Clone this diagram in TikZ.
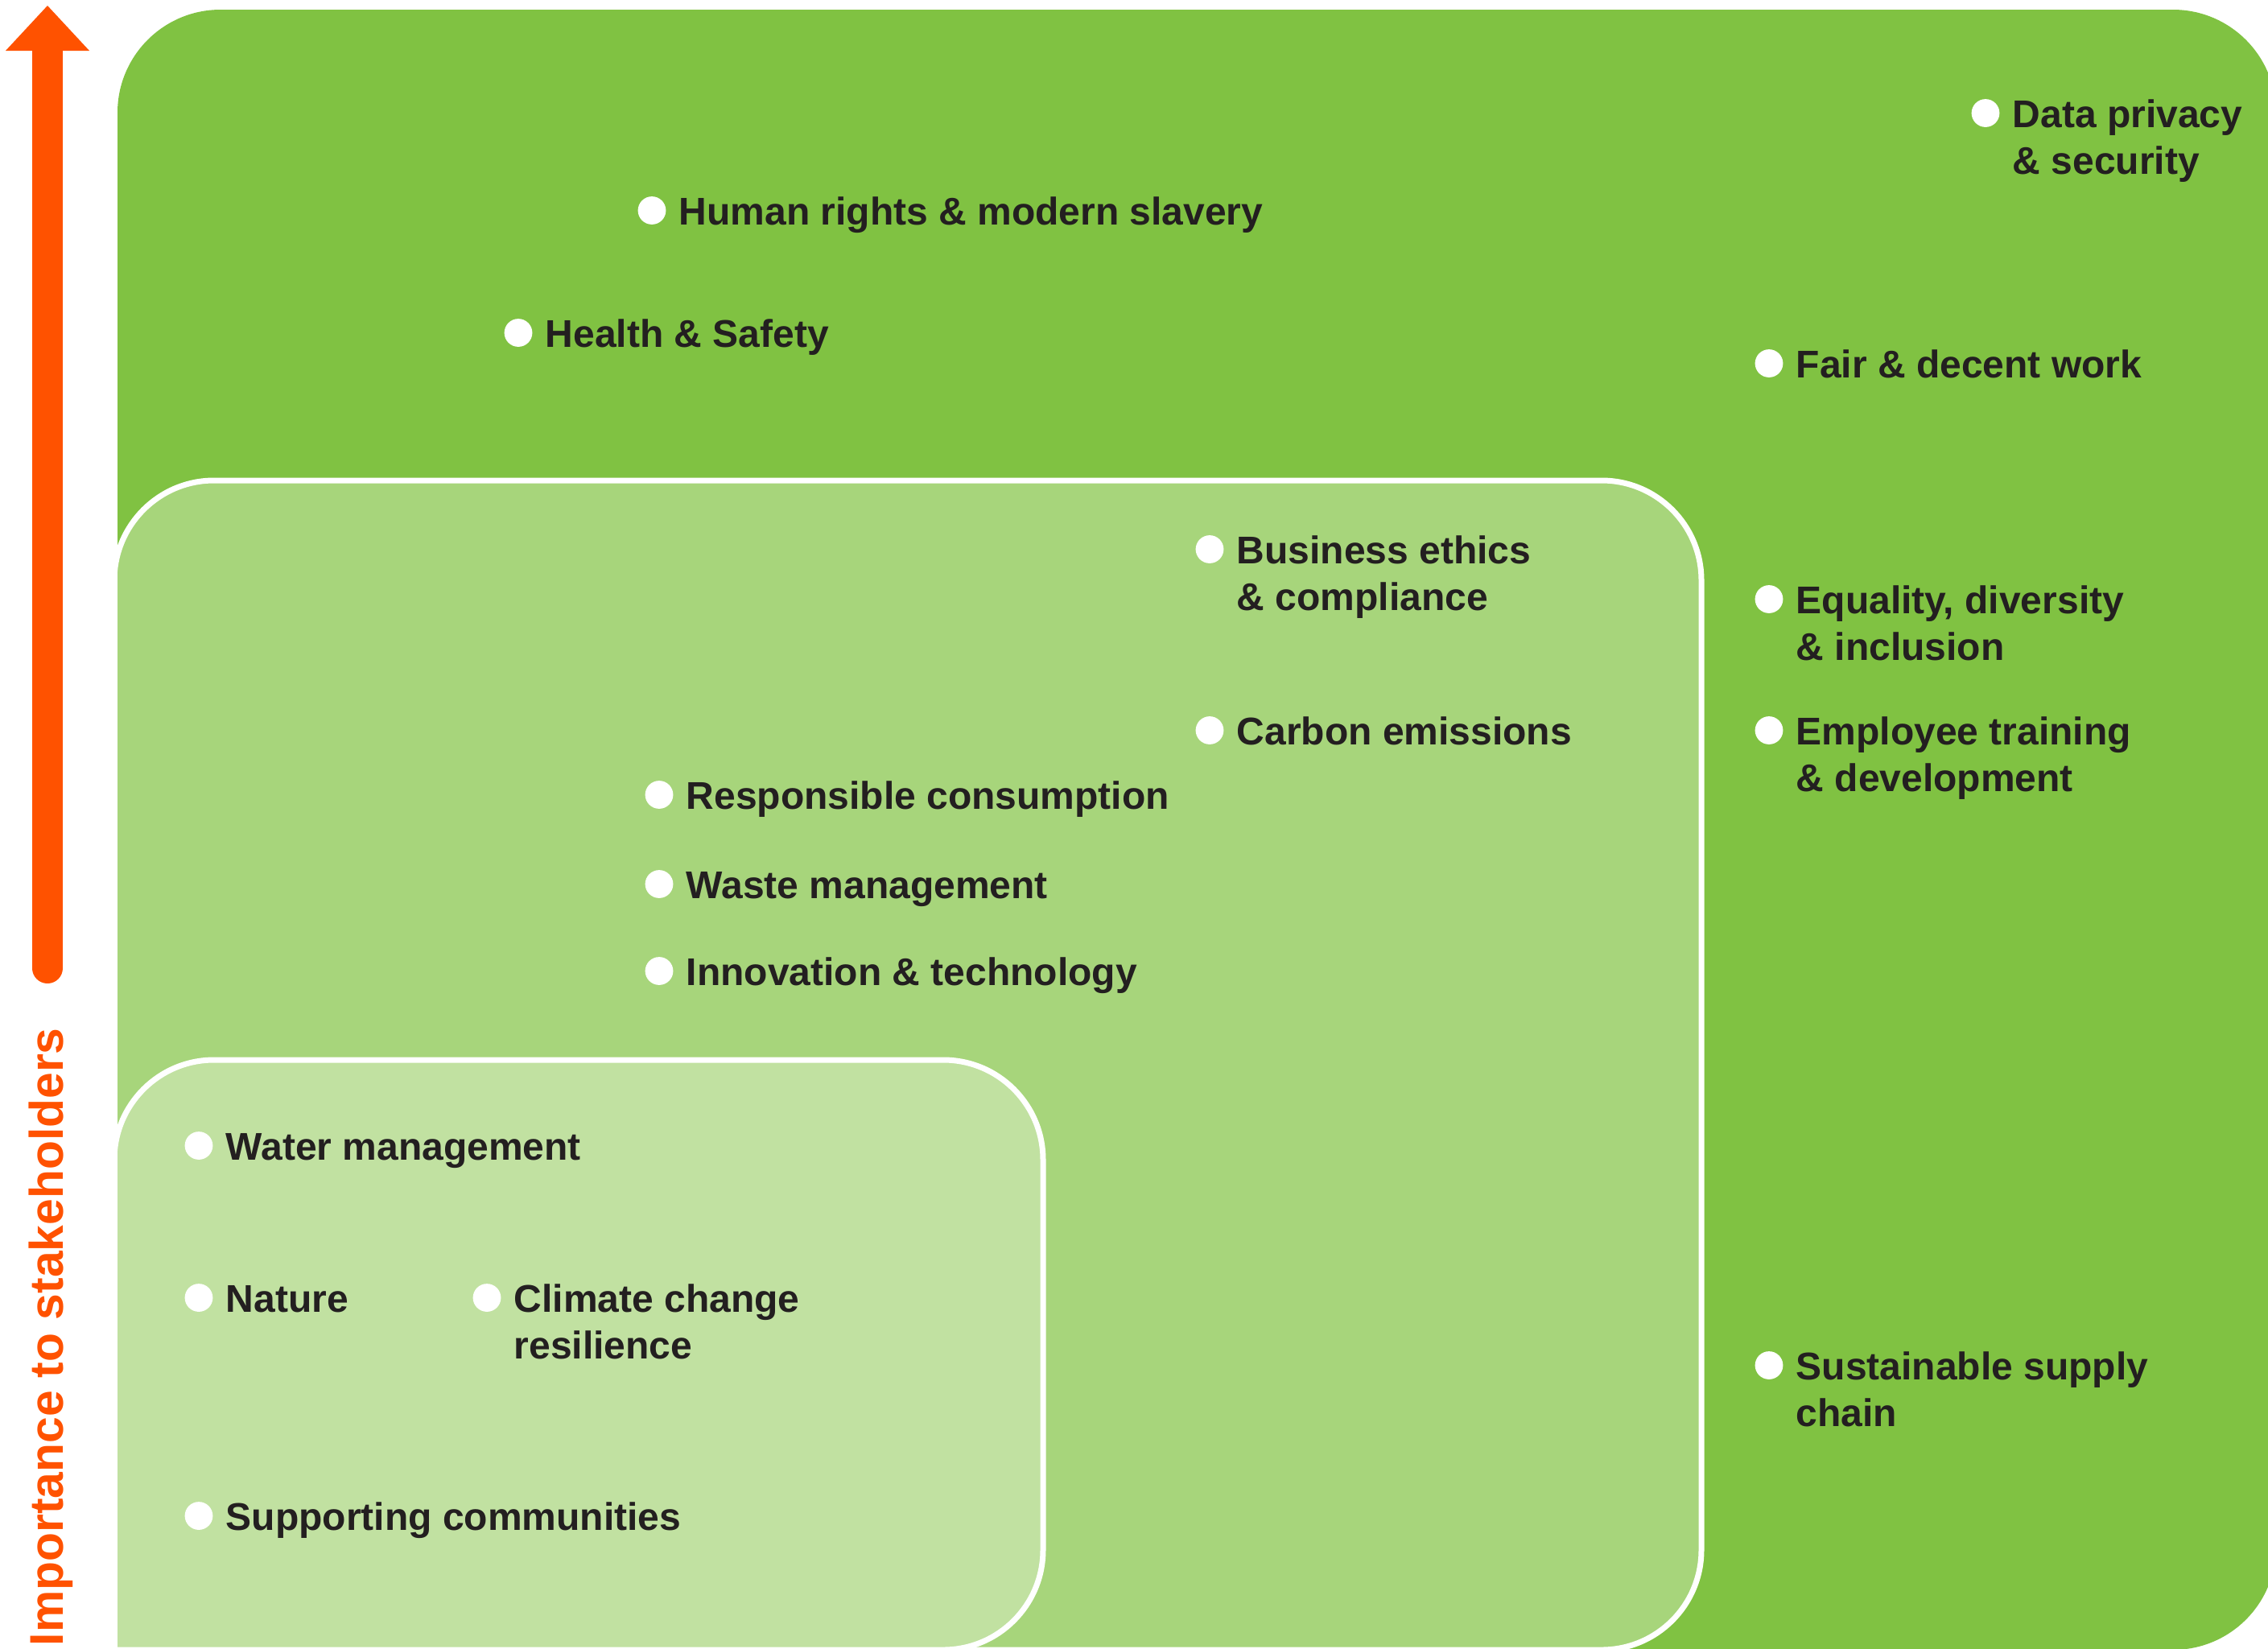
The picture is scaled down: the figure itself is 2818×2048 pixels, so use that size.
\documentclass[tikz,border=0pt]{standalone}
\usepackage{fontspec}
\setmainfont{Liberation Sans}
\definecolor{outerg}{RGB}{128,194,66}
\definecolor{midg}{RGB}{167,213,123}
\definecolor{smallg}{RGB}{193,225,161}
\definecolor{arroworange}{RGB}{255,82,0}
\definecolor{txt}{RGB}{35,31,32}
\tikzset{
  dotmark/.style={circle, fill=white, draw=none, minimum size=8.7pt, inner sep=0pt},
  lbl/.style={inner sep=0pt, anchor=base west, text=txt, font=\fontsize{12}{14.4}\selectfont\bfseries},
  zone/.style={draw=white, line width=1.75pt, rounded corners=31pt},
}
\newcommand\mtopic[4]{%
  \node[dotmark] (#1d) at ({#2-33},{#3-17.5}) {};
  \node[lbl] (#1) at (#2,#3) {#4};
}
\begin{document}
\begin{tikzpicture}[x=0.25pt, y=-0.25pt]
\useasboundingbox (0,0) rectangle (2818,2048);
\begin{scope}
  \clip (146,0) rectangle (2818,2048);
  \fill[outerg, rounded corners=32pt] (146,2100) -- (146,12) -- (2828,12) -- (2828,2050) -- (146,2050);
  \filldraw[zone, fill=midg] (142,2100) -- (142,597) -- (2114,597) -- (2114,2050) -- (142,2050);
  \filldraw[zone, fill=smallg] (142,2100) -- (142,1317) -- (1296,1317) -- (1296,2050) -- (142,2050);
\end{scope}
% arrow
\coordinate (atip) at (59,7);
\coordinate (abot) at (59,1203);
\draw[arroworange, line width=9.5pt, line cap=round] (59,60) -- (abot);
\fill[arroworange] (7,63) -- (atip) -- (111,63) -- cycle;
\node[rotate=90, anchor=base west, inner sep=0pt, text=arroworange,
      font=\fontsize{14.7}{16}\selectfont\bfseries] (axis) at (79,2046) {Importance to stakeholders};
% topics
\mtopic{dp}{2500}{158}{Data privacy}
\node[lbl] (dp2) at (2500,216) {\& security};
\mtopic{hr}{843}{279}{Human rights \& modern slavery}
\mtopic{hs}{677}{431}{Health \& Safety}
\mtopic{fd}{2231}{469}{Fair \& decent work}
\mtopic{be}{1536}{700}{Business ethics}
\node[lbl] (be2) at (1536,758) {\& compliance};
\mtopic{ed}{2231}{762}{Equality, diversity}
\node[lbl] (ed2) at (2231,820) {\& inclusion};
\mtopic{ce}{1536}{925}{Carbon emissions}
\mtopic{et}{2231}{925}{Employee training}
\node[lbl] (et2) at (2231,983) {\& development};
\mtopic{rc}{852}{1005}{Responsible consumption}
\mtopic{wm}{852}{1116}{Waste management}
\mtopic{it}{852}{1224}{Innovation \& technology}
\mtopic{wa}{280}{1441}{Water management}
\mtopic{na}{280}{1630}{Nature}
\mtopic{cc}{638}{1630}{Climate change}
\node[lbl] (cc2) at (638,1688) {resilience};
\mtopic{sc}{280}{1901}{Supporting communities}
\mtopic{ss}{2231}{1714}{Sustainable supply}
\node[lbl] (ss2) at (2231,1772) {chain};
\end{tikzpicture}
\end{document}
